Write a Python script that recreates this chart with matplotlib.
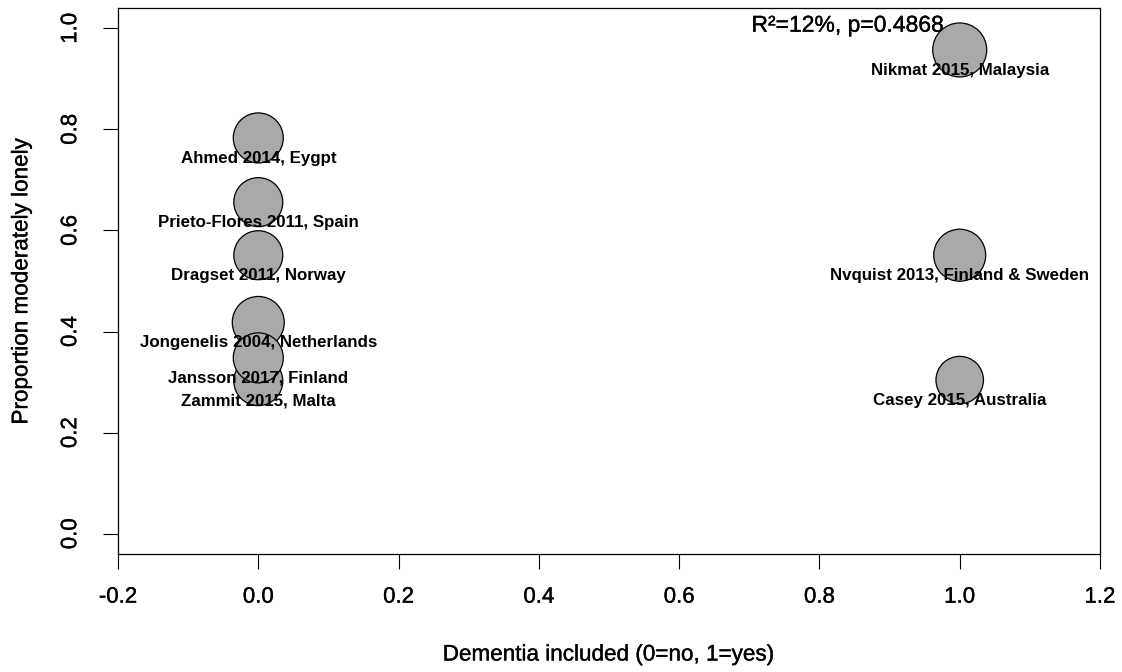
import matplotlib.pyplot as plt
import matplotlib.patheffects as pe

# studies in drawing order (later ones are drawn on top)
studies = [
    "Nikmat 2015, Malaysia",
    "Ahmed 2014, Eygpt",
    "Prieto-Flores 2011, Spain",
    "Dragset 2011, Norway",
    "Zammit 2015, Malta",
    "Jongenelis 2004, Netherlands",
    "Jansson 2017, Finland",
    "Nvquist 2013, Finland & Sweden",
    "Casey 2015, Australia",
]
dementia = [1, 0, 0, 0, 0, 0, 0, 1, 1]
proportion = [0.957, 0.783, 0.656, 0.551, 0.302, 0.418, 0.348, 0.551, 0.304]
# relative study weight (bubble radius)
weight = [1.08, 1.0, 0.98, 0.98, 0.98, 1.04, 1.0, 1.04, 0.95]

xticks = [-0.2, 0.0, 0.2, 0.4, 0.6, 0.8, 1.0, 1.2]
yticks = [0.0, 0.2, 0.4, 0.6, 0.8, 1.0]
stat_text = "R²=12%, p=0.4868"

plt.rcParams["font.family"] = ["Liberation Sans", "DejaVu Sans"]
# slightly heavier strokes, like the R windows device
heavy = [pe.withStroke(linewidth=0.25, foreground="black")]

fig = plt.figure(figsize=(11.22, 6.72), dpi=100)
ax = fig.add_axes([118 / 1122, 1 - 554 / 672, 982 / 1122, 546 / 672])

# bubble radius ~25 px -> marker area in points^2
sizes = [(2 * 25 * w * 0.72) ** 2 for w in weight]
ax.scatter(dementia, proportion, s=sizes, facecolor="#a9a9a9",
           edgecolor="black", linewidth=0.9, zorder=2)

for name, x, y in zip(studies, dementia, proportion):
    ax.annotate(name, (x, y), xytext=(0, -14.5), textcoords="offset points",
                ha="center", va="center", fontsize=12.2, fontweight="bold",
                zorder=3)

ax.text(0.84, 1.006, stat_text, ha="center", va="center", fontsize=16.5,
        zorder=3, path_effects=heavy)

ax.set_xlim(-0.2, 1.2)
ax.set_ylim(-0.04, 1.04)
ax.set_xticks(xticks)
ax.set_xticklabels([f"{t:.1f}" for t in xticks])
ax.set_yticks(yticks)
ax.set_yticklabels([f"{t:.1f}" for t in yticks], rotation=90, va="center")

ax.tick_params(axis="both", direction="out", length=10.5, width=0.8, labelsize=16)
ax.tick_params(axis="x", pad=13)
ax.tick_params(axis="y", pad=16)
for lab in ax.get_xticklabels() + ax.get_yticklabels():
    lab.set_path_effects(heavy)
for sp in ax.spines.values():
    sp.set_linewidth(0.9)

ax.set_xlabel("Dementia included (0=no, 1=yes)", fontsize=16.2, va="center",
              path_effects=heavy)
ax.xaxis.set_label_coords(0.5, -0.185)
ax.set_ylabel("Proportion moderately lonely", fontsize=16.2, va="center",
              path_effects=heavy)
ax.yaxis.set_label_coords(-0.098, 0.5)

plt.savefig("out.png", dpi=100)
